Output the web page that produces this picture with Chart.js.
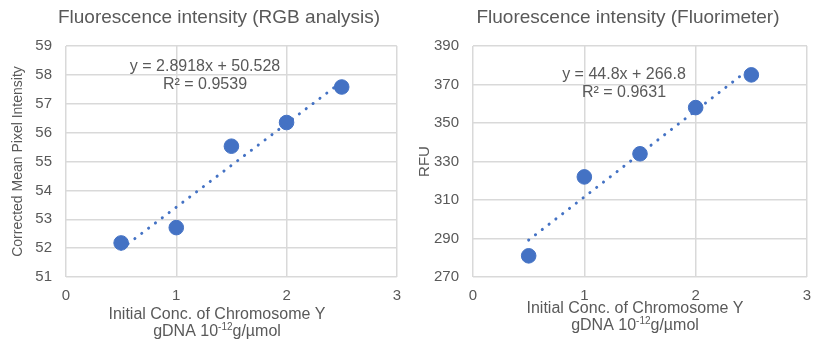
<!DOCTYPE html>
<html>
<head>
<meta charset="utf-8">
<script src="https://cdn.jsdelivr.net/npm/chart.js@4.4.0/dist/chart.umd.min.js"></script>
<style>
  html, body { margin: 0; padding: 0; background: #fff; }
  .wrap { position: absolute; top: 0; width: 411px; height: 341px; }
  #left { left: 0; }
  #right { left: 411px; }
</style>
</head>
<body>
<div class="wrap" id="left"><canvas id="rgbChart" width="411" height="341"></canvas></div>
<div class="wrap" id="right"><canvas id="rfuChart" width="411" height="341"></canvas></div>
<script>
// data
var concX = [0.5, 1, 1.5, 2, 2.5];
var rgbValues = [52.18, 52.71, 55.53, 56.35, 57.58];
var rfuValues = [281, 322, 334, 358, 375];

// trend line end points (from the fitted equations)
var trendX = [0.5, 2.5];
var rgbTrend = [51.97, 57.76];
var rfuTrend = [289.2, 378.8];

var xTicks = [0, 1, 2, 3];
var rgbTicks = [51, 52, 53, 54, 55, 56, 57, 58, 59];
var rfuTicks = [270, 290, 310, 330, 350, 370, 390];

var FONT = "'Liberation Sans', Arial, sans-serif";
var GREY = '#595959';
var BLUE = '#4472C4';

function pts(xs, ys) {
  return xs.map(function(x, i) { return { x: x, y: ys[i] }; });
}

// chart title, equation text and the two-line x axis title (with superscript)
var textPlugin = {
  id: 'extraText',
  afterDraw: function(chart, args, opts) {
    var ctx = chart.ctx;
    ctx.save();
    ctx.fillStyle = GREY;
    ctx.textAlign = 'center';
    ctx.textBaseline = 'middle';

    ctx.font = '19px ' + FONT;
    ctx.fillText(opts.title, opts.titleX, 18);

    ctx.font = '16px ' + FONT;
    ctx.fillText(opts.eq, opts.eqX, opts.eqY);
    ctx.fillText(opts.r2, opts.eqX, opts.eqY + 18);

    // x axis title
    ctx.fillText('Initial Conc. of Chromosome Y', opts.tX, opts.tY);
    var a = 'gDNA 10', sup = '-12', b = 'g/\u00b5mol';
    var wa = ctx.measureText(a).width, wb = ctx.measureText(b).width;
    ctx.font = '10px ' + FONT;
    var ws = ctx.measureText(sup).width;
    var start = opts.tX - (wa + ws + wb) / 2;
    var y2 = opts.tY + 17;
    ctx.textAlign = 'left';
    ctx.font = '16px ' + FONT;
    ctx.fillText(a, start, y2);
    ctx.font = '10px ' + FONT;
    ctx.fillText(sup, start + wa, y2 - 5);
    ctx.font = '16px ' + FONT;
    ctx.fillText(b, start + wa + ws, y2);
    ctx.restore();
  }
};

function makeChart(id, cfg) {
  return new Chart(document.getElementById(id), {
    type: 'scatter',
    data: {
      datasets: [{
        data: pts(trendX, cfg.trend),
        showLine: true,
        borderColor: BLUE,
        borderWidth: 3,
        borderDash: [0.1, 8.5],
        borderCapStyle: 'round',
        pointRadius: 0,
        fill: false
      }, {
        data: pts(concX, cfg.values),
        backgroundColor: BLUE,
        borderColor: BLUE,
        pointRadius: 7.3,
        pointHoverRadius: 7.3
      }]
    },
    options: {
      responsive: false,
      animation: false,
      layout: { padding: { top: 46, right: cfg.padRight, left: 0, bottom: 0 } },
      plugins: {
        legend: { display: false },
        tooltip: { enabled: false },
        title: { display: false },
        extraText: cfg.text
      },
      scales: {
        x: {
          type: 'linear',
          min: 0, max: 3,
          afterBuildTicks: function(s) { s.ticks = xTicks.map(function(v) { return { value: v }; }); },
          afterFit: function(s) { s.height = 64; },
          ticks: { color: GREY, font: { family: FONT, size: 15 }, padding: 10 },
          grid: { color: '#d9d9d9', lineWidth: 1.5, drawTicks: false },
          border: { display: false }
        },
        y: {
          min: cfg.ticks[0], max: cfg.ticks[cfg.ticks.length - 1],
          afterBuildTicks: function(s) { s.ticks = cfg.ticks.map(function(v) { return { value: v }; }); },
          afterFit: function(s) { s.width = cfg.axisW; },
          ticks: { color: GREY, font: { family: FONT, size: 15 }, padding: 14 },
          grid: { color: '#d9d9d9', lineWidth: 1.5, drawTicks: false },
          border: { display: false },
          title: {
            display: true,
            text: cfg.yTitle,
            color: GREY,
            font: { family: FONT, size: cfg.yTitleSize },
            padding: { top: cfg.yTitlePad, bottom: 0 }
          }
        }
      }
    },
    plugins: [textPlugin]
  });
}

makeChart('rgbChart', {
  yTitle: 'Corrected Mean Pixel Intensity',
  yTitleSize: 14,
  values: rgbValues,
  trend: rgbTrend,
  ticks: rgbTicks,
  axisW: 66,
  padRight: 5,
  yTitlePad: 9.5,
  text: { title: 'Fluorescence intensity (RGB analysis)', titleX: 219,
          eq: 'y = 2.8918x + 50.528', r2: 'R\u00b2 = 0.9539', eqX: 205, eqY: 67, tX: 217, tY: 315 }
});

makeChart('rfuChart', {
  yTitle: 'RFU',
  yTitleSize: 15,
  values: rfuValues,
  trend: rfuTrend,
  ticks: rfuTicks,
  axisW: 62,
  padRight: 15,
  yTitlePad: 4.5,
  text: { title: 'Fluorescence intensity (Fluorimeter)', titleX: 217,
          eq: 'y = 44.8x + 266.8', r2: 'R\u00b2 = 0.9631', eqX: 213, eqY: 75, tX: 224, tY: 309 }
});
</script>
</body>
</html>
